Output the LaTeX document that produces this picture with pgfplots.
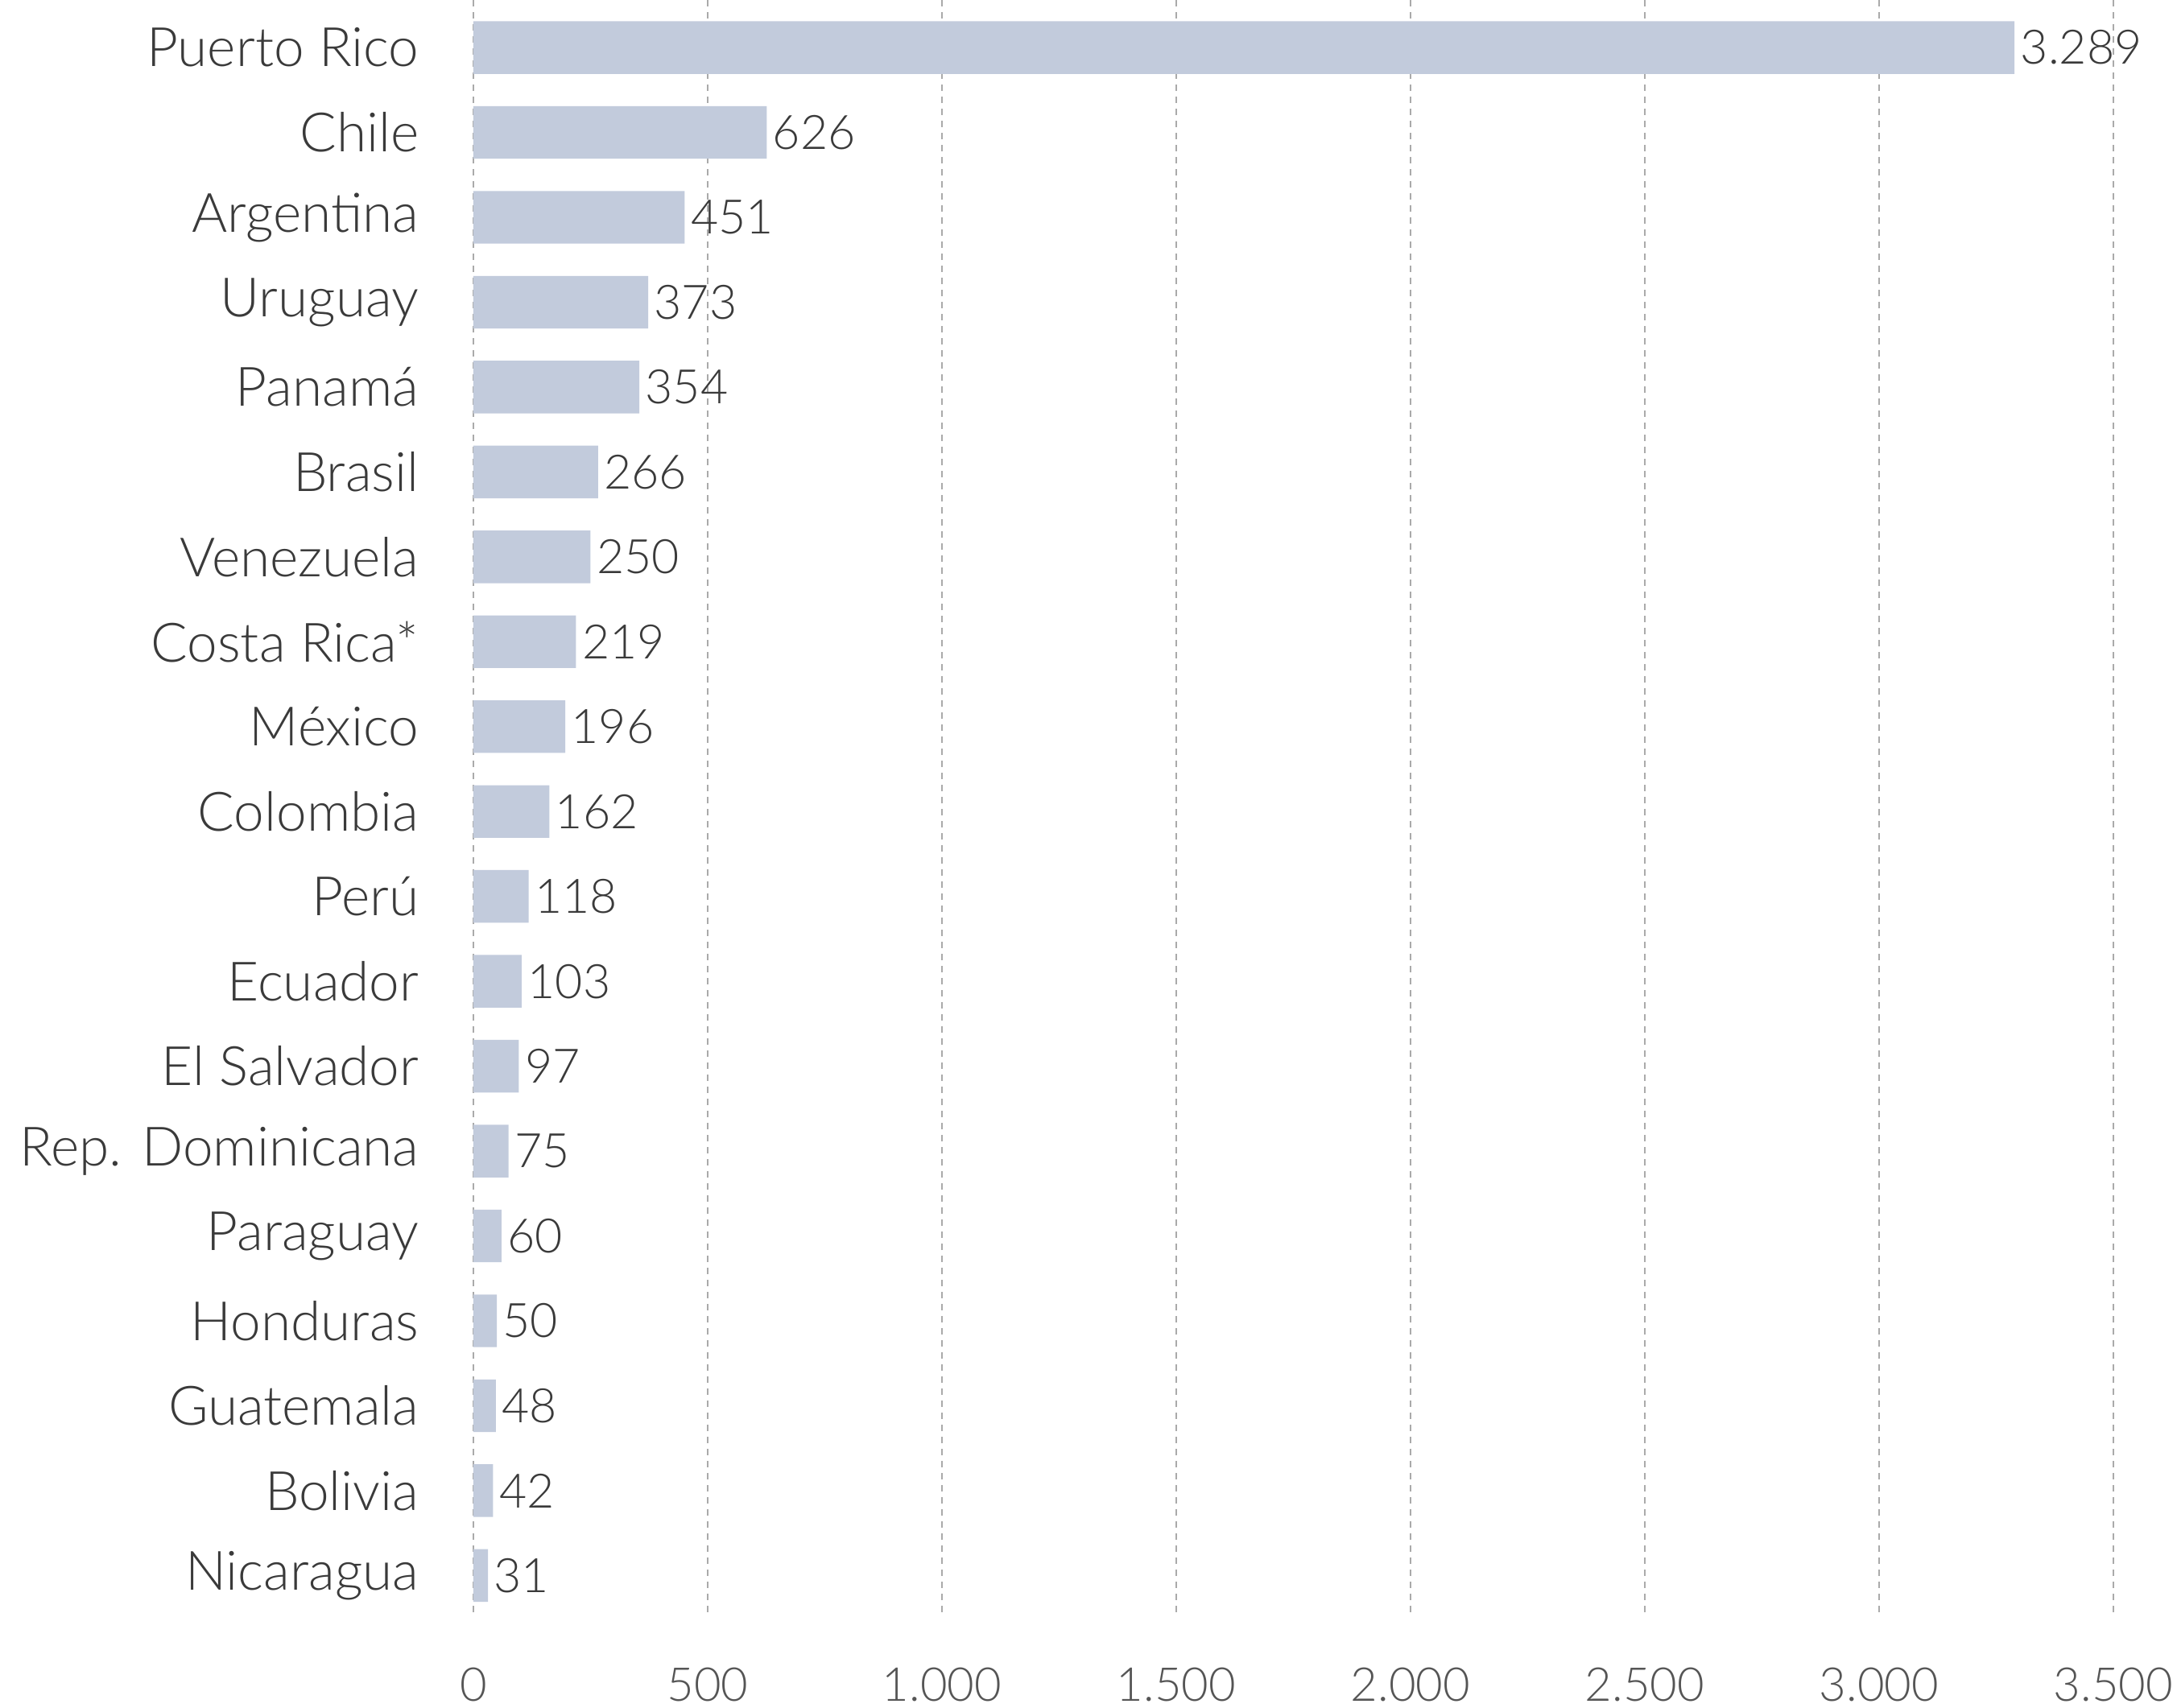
\documentclass[border=0pt]{standalone}
\usepackage{fontspec}
\setmainfont{Lato}[UprightFont=* Light]
\usepackage{pgfplots}
\pgfplotsset{compat=1.18}
\definecolor{barc}{HTML}{C2CBDC}
\definecolor{txt}{HTML}{3A3A3A}
\definecolor{tck}{HTML}{555555}
\definecolor{gridc}{HTML}{AAAAAA}

\begin{document}
\begin{tikzpicture}
\begin{axis}[at={(0,0)},anchor=south west,
 scale only axis,width=407.4pt,height=401.8pt,
 xbar,bar width=0.62,
 xmin=0,xmax=3500,ymin=-0.56,ymax=18.49,y dir=reverse,
 xtick={0,500,...,3500},
 ytick={0,...,18},
 yticklabels={Puerto Rico,Chile,Argentina,Uruguay,Panamá,Brasil,Venezuela,Costa Rica*,México,Colombia,Perú,Ecuador,El Salvador,Rep. Dominicana,Paraguay,Honduras,Guatemala,Bolivia,Nicaragua},
 /pgf/number format/.cd,1000 sep={.},assume math mode=true,/pgfplots/.cd,
 axis line style={draw=none},major tick length=0pt,
 xmajorgrids,grid style={gridc,line width=0.4pt,dash pattern=on 1.6pt off 1.4pt},
 xticklabel style={font=\fontsize{11.6}{14}\selectfont,text=tck,yshift=-9pt},
 yticklabel style={font=\fontsize{13.5}{15}\selectfont,text=txt,xshift=-10pt},
 nodes near coords,
 every node near coord/.append style={font=\fontsize{11.8}{14}\selectfont,text=txt,xshift=-2pt},
 clip=false]
\addplot[fill=barc,draw=none] coordinates {
(3289,0) (626,1) (451,2) (373,3) (354,4) (266,5) (250,6) (219,7) (196,8)
(162,9) (118,10) (103,11) (97,12) (75,13) (60,14) (50,15) (48,16) (42,17) (31,18)};
\end{axis}
\pgfresetboundingbox
\path (-117.6pt,-22.4pt) rectangle (423.2pt,401.8pt);
\end{tikzpicture}
\end{document}
